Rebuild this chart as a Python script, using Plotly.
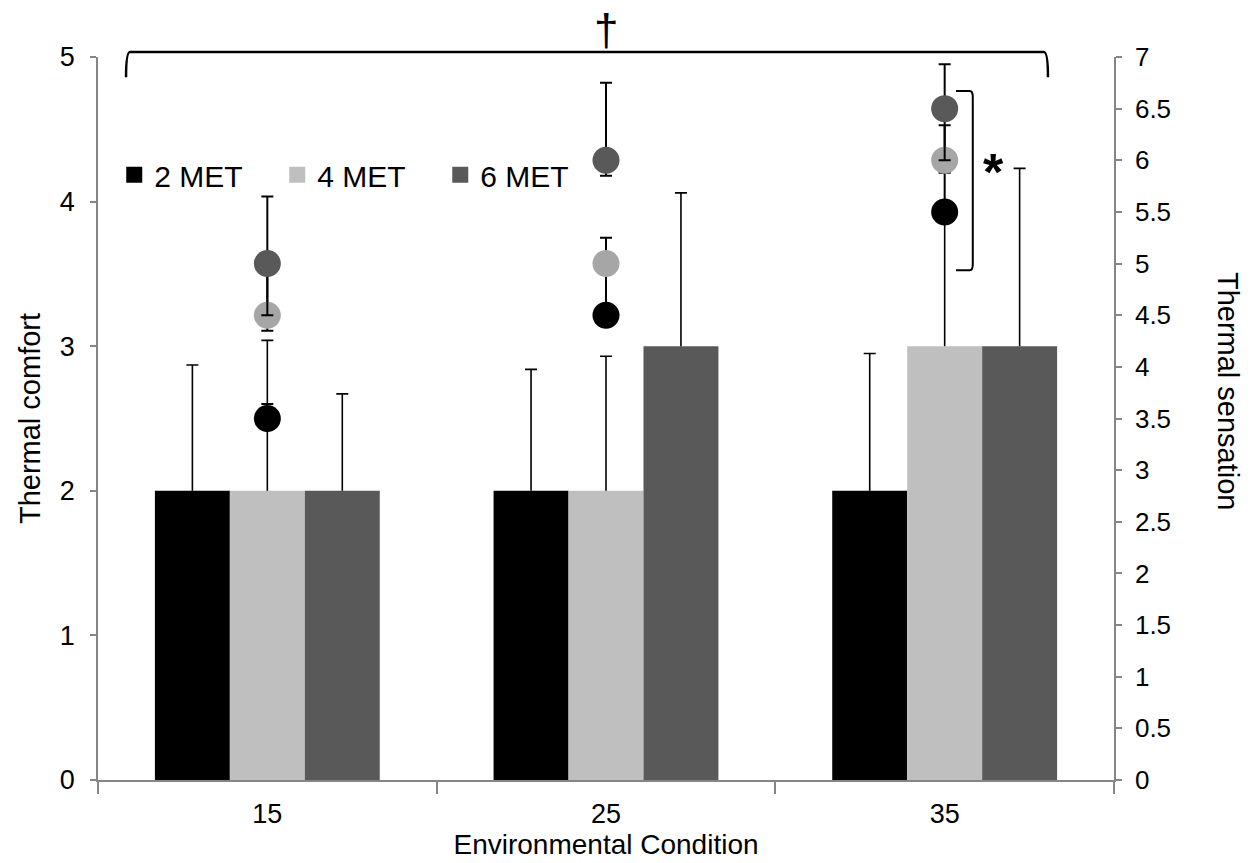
import plotly.graph_objects as go

conditions = ["15", "25", "35"]
series_names = ["2 MET", "4 MET", "6 MET"]

# Thermal comfort (bars, left axis) and upward error
comfort_2 = [2, 2, 2]
comfort_4 = [2, 2, 3]
comfort_6 = [2, 3, 3]
comfort_err_2 = [0.87, 0.84, 0.95]
comfort_err_4 = [1.04, 0.93, 1.0]
comfort_err_6 = [0.67, 1.06, 1.23]

# Thermal sensation (dots, right axis) with plus / minus error
sens_2 = [3.5, 4.5, 5.5]
sens_4 = [4.5, 5.0, 6.0]
sens_6 = [5.0, 6.0, 6.5]
sens_err_plus_2 = [0.14, 0.1, 0.5]
sens_err_minus_2 = [0.1, 0.1, 0.1]
sens_err_plus_4 = [0.4, 0.25, 0.34]
sens_err_minus_4 = [0.15, 0.5, 0.12]
sens_err_plus_6 = [0.65, 0.75, 0.43]
sens_err_minus_6 = [0.5, 0.15, 0.5]

bar_colors = ["#000000", "#BFBFBF", "#595959"]
dot_colors = ["#000000", "#A6A6A6", "#595959"]

FONT = "Liberation Sans, Arial, sans-serif"
AXIS_GREY = "#868686"

comforts = [comfort_2, comfort_4, comfort_6]
comfort_errs = [comfort_err_2, comfort_err_4, comfort_err_6]
sens = [sens_2, sens_4, sens_6]
sens_plus = [sens_err_plus_2, sens_err_plus_4, sens_err_plus_6]
sens_minus = [sens_err_minus_2, sens_err_minus_4, sens_err_minus_6]

fig = go.Figure()

# Visible bars
for i in range(3):
    fig.add_trace(go.Bar(
        x=conditions, y=comforts[i], offsetgroup=str(i), name=series_names[i],
        marker=dict(color=bar_colors[i], line=dict(width=0)), showlegend=False,
    ))
# Invisible bars carrying only the vertical part of the upward error bar (no caps)
for i in range(3):
    fig.add_trace(go.Bar(
        x=conditions, y=comforts[i], offsetgroup=str(i),
        marker=dict(color="rgba(0,0,0,0)", line=dict(width=0)),
        error_y=dict(type="data", symmetric=False, array=comfort_errs[i],
                     arrayminus=[0, 0, 0], color="black", thickness=1.6, width=0),
        showlegend=False, hoverinfo="skip",
    ))
# Invisible bars at the error top carrying only the cap
for i in range(3):
    tops = [c + e for c, e in zip(comforts[i], comfort_errs[i])]
    fig.add_trace(go.Bar(
        x=conditions, y=tops, offsetgroup=str(i),
        marker=dict(color="rgba(0,0,0,0)", line=dict(width=0)),
        error_y=dict(type="data", array=[0, 0, 0], color="black", thickness=1.6, width=6),
        showlegend=False, hoverinfo="skip",
    ))

# Thermal sensation dots on right axis
for i in range(3):
    fig.add_trace(go.Scatter(
        x=conditions, y=sens[i], mode="markers", yaxis="y2",
        marker=dict(color=dot_colors[i], size=27, line=dict(width=0)),
        error_y=dict(type="data", symmetric=False, array=sens_plus[i],
                     arrayminus=sens_minus[i], color="black", thickness=2, width=6),
        showlegend=False,
    ))

# Legend entries (square swatches matching the bar colours)
for i in range(3):
    fig.add_trace(go.Scatter(
        x=[None], y=[None], mode="markers", name=series_names[i],
        marker=dict(color=bar_colors[i], size=16, symbol="square", line=dict(width=0)),
        showlegend=True, hoverinfo="skip",
    ))

fig.update_layout(
    width=1256, height=863,
    margin=dict(l=98, r=142, t=57, b=83),
    paper_bgcolor="white", plot_bgcolor="white",
    barmode="group", bargap=0.336, bargroupgap=0,
    font=dict(family=FONT, size=26, color="black"),
    showlegend=True,
    legend=dict(orientation="h", x=0.016, y=0.837, xanchor="left", yanchor="middle",
                font=dict(size=30, family=FONT), entrywidth=118, entrywidthmode="pixels",
                bgcolor="rgba(0,0,0,0)", traceorder="normal", itemsizing="trace"),
    xaxis=dict(type="category", categoryorder="array", categoryarray=conditions,
               showline=True, linecolor=AXIS_GREY, linewidth=1.5,
               ticks="outside", tickson="boundaries", ticklen=12, tickcolor=AXIS_GREY,
               tickwidth=1.5, showgrid=False, zeroline=False,
               tickfont=dict(size=27), ticklabelstandoff=9,
               title=dict(text="Environmental Condition", font=dict(size=28), standoff=0)),
    yaxis=dict(range=[0, 5], dtick=1, showline=True, linecolor=AXIS_GREY, linewidth=1.5,
               ticks="outside", ticklen=6, tickcolor=AXIS_GREY, tickwidth=1.5,
               showgrid=False, zeroline=False, tickfont=dict(size=27), ticklabelstandoff=10,
               title=dict(text="Thermal comfort", font=dict(size=29), standoff=11)),
    yaxis2=dict(range=[0, 7], dtick=0.5, overlaying="y", side="right",
                showline=True, linecolor=AXIS_GREY, linewidth=1.5,
                ticks="outside", ticklen=6, tickcolor=AXIS_GREY, tickwidth=1.5,
                showgrid=False, zeroline=False, tickfont=dict(size=26), ticklabelstandoff=8),
)

# Right axis title (reads top to bottom)
fig.add_annotation(text="Thermal sensation", xref="paper", yref="paper",
                   x=1.13, y=0.538, textangle=90, showarrow=False,
                   font=dict(size=29, family=FONT))

# Overall bracket with dagger
fig.add_shape(type="path", xref="paper", yref="paper",
              path="M 0.0276 0.972 Q 0.0276 1.0069 0.0315 1.0069 L 0.931 1.0069 Q 0.935 1.0069 0.935 0.972",
              line=dict(color="black", width=2.5))
fig.add_annotation(text="†", xref="paper", yref="paper", x=0.5, y=1.074,
                   showarrow=False, font=dict(size=44, family=FONT))

# Bracket for 35 with asterisk
fig.add_shape(type="path", xref="paper", yref="paper",
              path="M 0.8445 0.953 L 0.858 0.953 Q 0.861 0.953 0.861 0.945 L 0.861 0.713 Q 0.861 0.705 0.858 0.705 L 0.8445 0.705",
              line=dict(color="black", width=2))
fig.add_annotation(text="<b>*</b>", xref="paper", yref="paper", x=0.894, y=0.884,
                   showarrow=False, font=dict(size=52, family=FONT))

fig.write_html("out.html")
